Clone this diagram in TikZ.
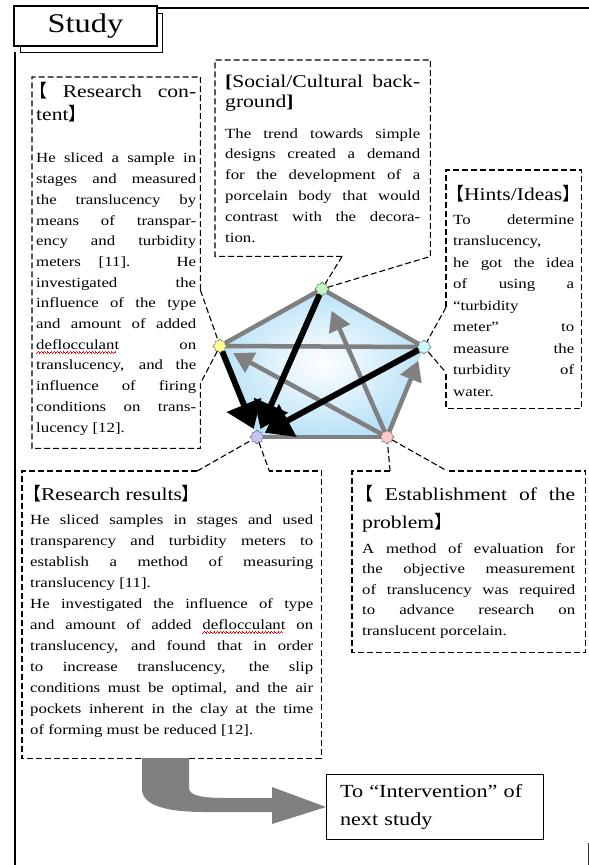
\documentclass[tikz,border=0pt]{standalone}
\usepackage{fontspec}
\setmainfont[FakeStretch=1.2]{Liberation Serif}
\newfontfamily\cjk{Noto Sans CJK JP}
\usetikzlibrary{arrows.meta,positioning,shapes.geometric,backgrounds,calc}

\definecolor{pentblue}{RGB}{186,226,248}
\definecolor{arrgray}{RGB}{128,128,128}
\definecolor{vgreen}{RGB}{196,246,196}
\definecolor{vyellow}{RGB}{255,255,150}
\definecolor{vcyan}{RGB}{204,255,255}
\definecolor{vpurple}{RGB}{196,196,240}
\definecolor{vpink}{RGB}{255,200,200}

% lenticular brackets, kept narrow
\newcommand\lbr{\makebox[.6em][r]{\cjk 【}}
\newcommand\rbr{\makebox[.6em][l]{\cjk 】}}
% red wavy underline, made of small rules
\newcommand\wavebit{\hbox{\rule[-4pt]{.8pt}{.6pt}\rule[-3.4pt]{.8pt}{.6pt}\rule[-2.8pt]{.8pt}{.6pt}\rule[-3.4pt]{.8pt}{.6pt}}}
\newcommand\squig[1]{\setbox0\hbox{#1}\rlap{\color{red}\leaders\wavebit\hskip\wd0}\box0\relax}
\newcommand\headfont[1]{\fontsize{18}{#1}\selectfont}
\newcommand\bodyfont[1]{\fontsize{14}{#1}\selectfont}

\tikzset{
  note/.style={inner xsep=#1, inner ysep=0pt, anchor=north west},
  callout/.style={dash pattern=on 6pt off 3pt, line width=1.1pt},
  vert/.style={star, star points=8, star point ratio=1.3, minimum size=14pt,
    inner sep=0pt, draw=black!60, line width=.5pt},
  edge/.style={arrgray, line width=4.5pt},
  grayarr/.style={arrgray, line width=4.5pt, -{Triangle[length=20pt,width=22pt]}},
  blackarr/.style={black, line width=6pt, -{Triangle[length=26pt,width=36pt]}, shorten >=3pt},
}

\begin{document}
\begin{tikzpicture}[x=1pt,y=-1pt]
  \useasboundingbox (0,0) rectangle (589,865);
  % frame and tab
  \draw[line width=1.5pt] (15,52) -- (15,865);
  \draw[line width=1.6pt] (156,8) -- (589,8);
  \draw[arrgray!40!black, line width=.6pt] (588,843) -- (588,865);
  \draw[line width=.9pt] (20,13) rectangle (162,52);
  \node[draw, line width=1.8pt, fill=white, minimum width=143pt, minimum height=40pt,
    inner sep=0pt, anchor=north west, font=\fontsize{27}{30}\selectfont] (study) at (13,5) {Study};

  % pentagon corners
  \node[vert, fill=vgreen] (vsoc) at (322,289) {};
  \node[vert, fill=vyellow] (vcont) at (220,346) {};
  \node[vert, fill=vcyan] (vhint) at (424,347) {};
  \node[vert, fill=vpink] (vest) at (387,437) {};
  \node[vert, fill=vpurple] (vres) at (257,437) {};

  \begin{scope}[on background layer]
    \shade[inner color=white, outer color=pentblue] (vcont.center) -- (vsoc.center)
      -- (vhint.center) -- (vest.center) -- (vres.center) -- cycle;
    \draw[edge, line join=round] (vcont.center) -- (vsoc.center) -- (vhint.center);
    \draw[edge] (vcont.center) -- (vhint.center);
    \draw[edge] (vres.center) -- (vest.center);
    \draw[grayarr, shorten >=18pt] (vest) -- (vsoc);
    \draw[grayarr, shorten >=9pt] (vest) -- (vhint);
    \draw[grayarr, shorten >=9pt] (vest) -- (vcont);
    \draw[blackarr] (vsoc) -- (vres);
    \draw[blackarr] (vcont) -- (vres);
    \draw[blackarr] (vhint) -- (vres);
  \end{scope}

  % research content
  \node[note=4pt] (cont) at (32,77) {\parbox[t][371pt][t]{160pt}{%
    \headfont{23}\rule{0pt}{20pt}\lbr\ Research con-\linebreak tent\rbr\par
    \vspace{22pt}\bodyfont{20.7}%
    He sliced a sample in\linebreak stages and measured\linebreak
    the translucency by\linebreak means of transpar-\linebreak
    ency and turbidity\linebreak meters [11]. He\linebreak
    investigated the\linebreak influence of the type\linebreak
    and amount of added\linebreak \squig{deflocculant} on\linebreak
    translucency, and the\linebreak influence of firing\linebreak
    conditions on trans-\linebreak lucency [12].\par}};
  \coordinate (c1) at ($(cont.north east)!.574!(cont.south east)$);
  \coordinate (c2) at ($(cont.north east)!.825!(cont.south east)$);
  \draw[callout] (c1) -- (cont.north east) -- (cont.north west) -- (cont.south west)
    -- (cont.south east) -- (c2);
  \draw[callout] (c1) -- (vcont);
  \draw[callout] (vcont) -- (c2);

  % social / cultural background
  \node[note=10pt] (soc) at (215,60) {\parbox[t][196pt][t]{195pt}{%
    \headfont{20}\rule{0pt}{27pt}{\bfseries[}Social/Cultural back-\linebreak ground{\bfseries]}\par
    \vspace{10pt}\bodyfont{20.8}%
    The trend towards simple\linebreak designs created a demand\linebreak
    for the development of a\linebreak porcelain body that would\linebreak
    contrast with the decora-\linebreak tion.\par}};
  \coordinate (s1) at ($(soc.south west)!.59!(soc.south east)$);
  \draw[callout] (s1) -- (soc.south west) -- (soc.north west) -- (soc.north east)
    -- (soc.south east);
  \draw[callout] (s1) -- (vsoc);
  \draw[callout] (vsoc) -- (soc.south east);

  % hints / ideas
  \node[note=7pt] (hint) at (446,170) {\parbox[t][238pt][t]{121pt}{%
    \headfont{24}\rule{0pt}{30pt}\lbr Hints/Ideas\rbr\par
    \vspace{2.5pt}\bodyfont{21.5}%
    To determine\linebreak translucency,\linebreak he got the idea\linebreak
    of using a\linebreak “turbidity\linebreak meter” to\linebreak
    measure the\linebreak turbidity of\linebreak water.\par}};
  \coordinate (h1) at ($(hint.north west)!.576!(hint.south west)$);
  \coordinate (h2) at ($(hint.north west)!.85!(hint.south west)$);
  \draw[callout] (h1) -- (hint.north west) -- (hint.north east) -- (hint.south east)
    -- (hint.south west) -- (h2);
  \draw[callout] (h1) -- (vhint);
  \draw[callout] (vhint) -- (h2);

  % research results
  \node[note=8pt] (res) at (22,471) {\parbox[t][287pt][t]{283pt}{%
    \headfont{24}\rule{0pt}{29pt}\lbr Research results\rbr\par
    \vspace{3pt}\bodyfont{21}%
    He sliced samples in stages and used\linebreak
    transparency and turbidity meters to\linebreak
    establish a method of measuring\linebreak
    translucency [11].\par
    He investigated the influence of type\linebreak
    and amount of added \squig{deflocculant} on\linebreak
    translucency, and found that in order\linebreak
    to increase translucency, the slip\linebreak
    conditions must be optimal, and the air\linebreak
    pockets inherent in the clay at the time\linebreak
    of forming must be reduced [12].\par}};
  \coordinate (r1) at ($(res.north west)!.585!(res.north east)$);
  \coordinate (r2) at ($(res.north west)!.826!(res.north east)$);
  \draw[callout] (r1) -- (res.north west) -- (res.south west) -- (res.south east)
    -- (res.north east) -- (r2);
  \draw[callout] (r1) -- (vres);
  \draw[callout] (vres) -- (r2);

  % establishment of the problem
  \node[note=10pt] (est) at (352,471) {\parbox[t][181pt][t]{213pt}{%
    \headfont{28}\rule{0pt}{29pt}\lbr\ Establishment of the\linebreak problem\rbr\par
    \vspace{4.5pt}\bodyfont{20.5}%
    A method of evaluation for\linebreak the objective measurement\linebreak
    of translucency was required\linebreak to advance research on\linebreak
    translucent porcelain.\par}};
  \coordinate (e1) at ($(est.north west)!.163!(est.north east)$);
  \coordinate (e2) at ($(est.north west)!.408!(est.north east)$);
  \draw[callout] (e1) -- (est.north west) -- (est.south west) -- (est.south east)
    -- (est.north east) -- (e2);
  \draw[callout] (e1) -- (vest);
  \draw[callout] (vest) -- (e2);

  % next study
  \node[draw, line width=1pt, anchor=north west, minimum width=217pt, minimum height=65pt,
    text width=190pt, inner xsep=13.5pt, align=left,
    font=\fontsize{18.5}{28}\selectfont] (nx) at (326,774) {To “Intervention” of\\next study};
  \fill[arrgray] (142,758) -- (142,789) .. controls (142,805) and (165,812) .. (205,812)
    -- (272,812) -- (272,824) -- (nx.west) -- (272,787) -- (272,798) -- (225,798)
    .. controls (200,798) and (189,795) .. (189,788) -- (189,758) -- cycle;
\end{tikzpicture}
\end{document}
